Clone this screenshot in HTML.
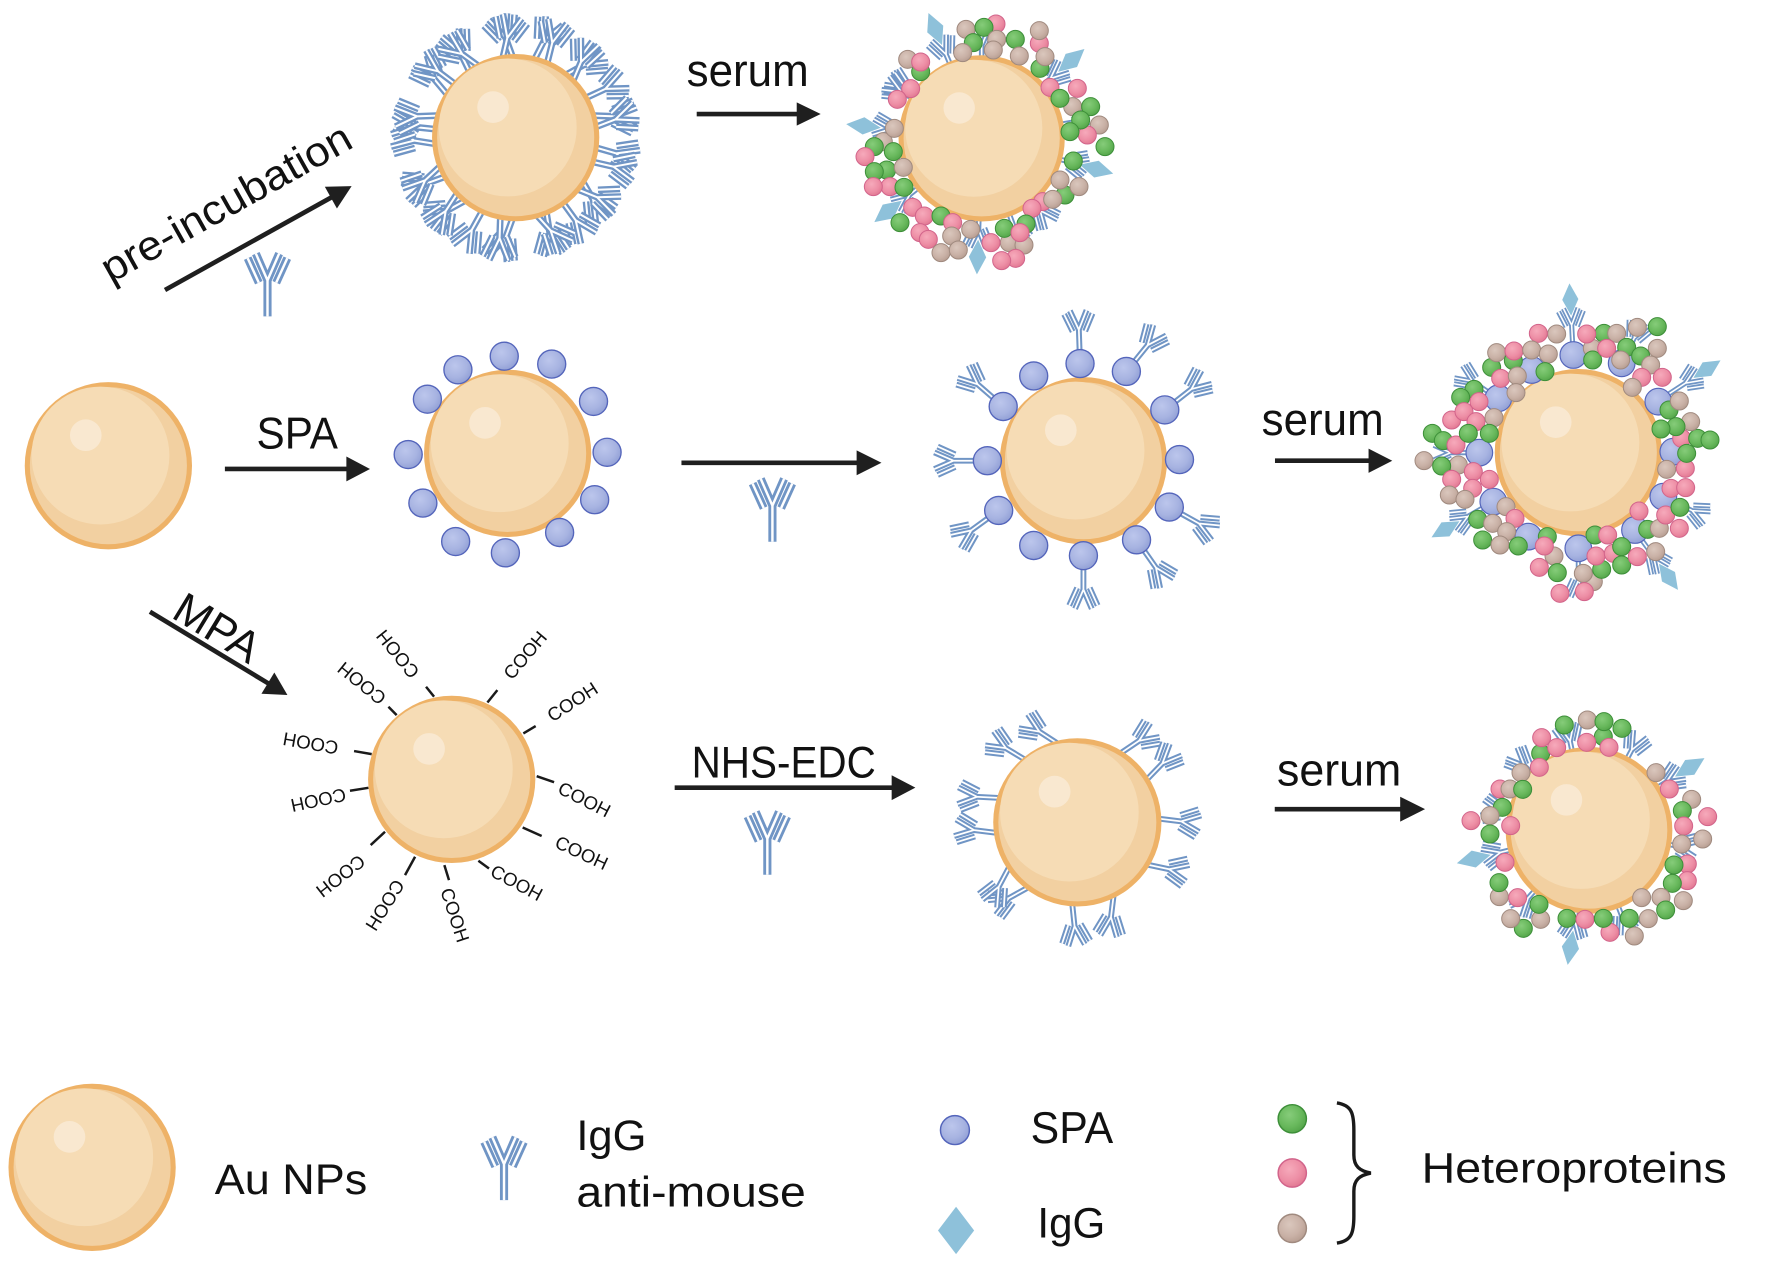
<!DOCTYPE html>
<html><head><meta charset="utf-8">
<style>
html,body{margin:0;padding:0;background:#fff}
svg{display:block}
text{font-family:"Liberation Sans",Arial,sans-serif;fill:#111}
.g{fill:url(#rg);stroke:#3d8f39}
.p{fill:url(#rp);stroke:#d2648b}
.t{fill:url(#rt);stroke:#a08a7f}
.s{fill:url(#rs);stroke:#5465bb}
</style></head>
<body>
<svg width="1772" height="1281" viewBox="0 0 1772 1281" xmlns="http://www.w3.org/2000/svg" xmlns:xlink="http://www.w3.org/1999/xlink">
<defs>
<radialGradient id="rs" cx=".4" cy=".36" r=".65"><stop offset="0" stop-color="#bcc6ec"/><stop offset=".65" stop-color="#a7b3e1"/><stop offset="1" stop-color="#93a1d6"/></radialGradient>
<radialGradient id="rg" cx=".4" cy=".36" r=".65"><stop offset="0" stop-color="#86cc7a"/><stop offset=".65" stop-color="#68b85c"/><stop offset="1" stop-color="#55a64b"/></radialGradient>
<radialGradient id="rp" cx=".4" cy=".36" r=".65"><stop offset="0" stop-color="#f6aabb"/><stop offset=".65" stop-color="#ed8ea5"/><stop offset="1" stop-color="#e27993"/></radialGradient>
<radialGradient id="rt" cx=".4" cy=".36" r=".65"><stop offset="0" stop-color="#dac7bd"/><stop offset=".65" stop-color="#c9b1a6"/><stop offset="1" stop-color="#b89f93"/></radialGradient>
<g id="np">
<circle r="74" fill="#EEB267"/>
<circle r="69.5" fill="#F2D0A1"/>
<circle cx="-7" cy="-9" r="61" fill="#F6DCB5"/>
<circle cx="-20" cy="-27" r="14" fill="#F9E8D0"/>
</g>
<g id="ab">
<path d="M0,0V-32M0,-31L-10,-54M0,-31L10,-54M-7.5,-29L-17,-50M7.5,-29L17,-50" fill="none" stroke="#7095C5" stroke-width="7"/>
<path d="M0,0V-32M0,-31L-10,-54M0,-31L10,-54M-7.5,-29L-17,-50M7.5,-29L17,-50" fill="none" stroke="#fff" stroke-width="2.1"/>
</g>
<g id="abd">
<use href="#ab"/>
<polygon points="0,-88 11,-66 0,-44 -11,-66" fill="#8EC1DA"/>
</g>
</defs>

<!-- ============ DISPLAY-COORD LAYER ============ -->
<g transform="scale(1.1301)">

<!-- Top antibody NP -->
<g>
<use href="#ab" transform="translate(456.3,121.8) rotate(0) translate(0,-64) rotate(-20) scale(0.85)"/>
<use href="#ab" transform="translate(456.3,121.8) rotate(12) translate(0,-64) rotate(15) scale(0.85)"/>
<use href="#ab" transform="translate(456.3,121.8) rotate(24) translate(0,-64) rotate(-10) scale(0.85)"/>
<use href="#ab" transform="translate(456.3,121.8) rotate(36) translate(0,-64) rotate(25) scale(0.85)"/>
<use href="#ab" transform="translate(456.3,121.8) rotate(48) translate(0,-64) rotate(-25) scale(0.85)"/>
<use href="#ab" transform="translate(456.3,121.8) rotate(60) translate(0,-64) rotate(5) scale(0.85)"/>
<use href="#ab" transform="translate(456.3,121.8) rotate(72) translate(0,-64) rotate(20) scale(0.85)"/>
<use href="#ab" transform="translate(456.3,121.8) rotate(84) translate(0,-64) rotate(-15) scale(0.85)"/>
<use href="#ab" transform="translate(456.3,121.8) rotate(96) translate(0,-64) rotate(10) scale(0.85)"/>
<use href="#ab" transform="translate(456.3,121.8) rotate(108) translate(0,-64) rotate(-5) scale(0.85)"/>
<use href="#ab" transform="translate(456.3,121.8) rotate(120) translate(0,-64) rotate(30) scale(0.85)"/>
<use href="#ab" transform="translate(456.3,121.8) rotate(132) translate(0,-64) rotate(-20) scale(0.85)"/>
<use href="#ab" transform="translate(456.3,121.8) rotate(144) translate(0,-64) rotate(0) scale(0.85)"/>
<use href="#ab" transform="translate(456.3,121.8) rotate(156) translate(0,-64) rotate(15) scale(0.85)"/>
<use href="#ab" transform="translate(456.3,121.8) rotate(168) translate(0,-64) rotate(-30) scale(0.85)"/>
<use href="#ab" transform="translate(456.3,121.8) rotate(180) translate(0,-64) rotate(20) scale(0.85)"/>
<use href="#ab" transform="translate(456.3,121.8) rotate(192) translate(0,-64) rotate(-10) scale(0.85)"/>
<use href="#ab" transform="translate(456.3,121.8) rotate(204) translate(0,-64) rotate(5) scale(0.85)"/>
<use href="#ab" transform="translate(456.3,121.8) rotate(216) translate(0,-64) rotate(25) scale(0.85)"/>
<use href="#ab" transform="translate(456.3,121.8) rotate(228) translate(0,-64) rotate(-15) scale(0.85)"/>
<use href="#ab" transform="translate(456.3,121.8) rotate(240) translate(0,-64) rotate(10) scale(0.85)"/>
<use href="#ab" transform="translate(456.3,121.8) rotate(252) translate(0,-64) rotate(-25) scale(0.85)"/>
<use href="#ab" transform="translate(456.3,121.8) rotate(264) translate(0,-64) rotate(15) scale(0.85)"/>
<use href="#ab" transform="translate(456.3,121.8) rotate(276) translate(0,-64) rotate(0) scale(0.85)"/>
<use href="#ab" transform="translate(456.3,121.8) rotate(288) translate(0,-64) rotate(-20) scale(0.85)"/>
<use href="#ab" transform="translate(456.3,121.8) rotate(300) translate(0,-64) rotate(20) scale(0.85)"/>
<use href="#ab" transform="translate(456.3,121.8) rotate(312) translate(0,-64) rotate(-5) scale(0.85)"/>
<use href="#ab" transform="translate(456.3,121.8) rotate(324) translate(0,-64) rotate(10) scale(0.85)"/>
<use href="#ab" transform="translate(456.3,121.8) rotate(336) translate(0,-64) rotate(-30) scale(0.85)"/>
<use href="#ab" transform="translate(456.3,121.8) rotate(348) translate(0,-64) rotate(25) scale(0.85)"/>
<use href="#np" transform="translate(456.3,121.8)"/>
</g>

<!-- Bare NP -->
<use href="#np" transform="translate(95.9,412.1)"/>

<!-- SPA NP -->
<use href="#np" transform="translate(449.2,401.2)"/>
<g stroke-width="1.2">
<circle class="s" cx="446.2" cy="315.2" r="12.4"/>
<circle class="s" cx="488.2" cy="322.2" r="12.4"/>
<circle class="s" cx="525.2" cy="355.2" r="12.4"/>
<circle class="s" cx="537.2" cy="400.2" r="12.4"/>
<circle class="s" cx="526.2" cy="442.2" r="12.4"/>
<circle class="s" cx="495.2" cy="471.2" r="12.4"/>
<circle class="s" cx="447.2" cy="489.2" r="12.4"/>
<circle class="s" cx="403.2" cy="479.2" r="12.4"/>
<circle class="s" cx="374.2" cy="445.2" r="12.4"/>
<circle class="s" cx="361.2" cy="402.2" r="12.4"/>
<circle class="s" cx="378.2" cy="353.2" r="12.4"/>
<circle class="s" cx="405.2" cy="327.2" r="12.4"/>
</g>

<!-- SPA + IgG NP -->
<use href="#np" transform="translate(958.7,407.7)"/>
<use href="#ab" transform="translate(955.7,321.7) rotate(-2) translate(0,-7) scale(0.74)"/>
<use href="#ab" transform="translate(996.7,328.7) rotate(39) translate(0,-7) scale(0.74)"/>
<use href="#ab" transform="translate(1030.7,362.7) rotate(52) translate(0,-7) scale(0.74)"/>
<use href="#ab" transform="translate(1034.7,448.7) rotate(119) translate(0,-7) scale(0.74)"/>
<use href="#ab" transform="translate(1005.7,477.7) rotate(145) translate(0,-7) scale(0.74)"/>
<use href="#ab" transform="translate(958.7,491.7) rotate(180) translate(0,-7) scale(0.74)"/>
<use href="#ab" transform="translate(883.7,451.7) rotate(234) translate(0,-7) scale(0.74)"/>
<use href="#ab" transform="translate(873.7,407.7) rotate(270) translate(0,-7) scale(0.74)"/>
<use href="#ab" transform="translate(887.7,359.7) rotate(311) translate(0,-7) scale(0.74)"/>
<g stroke-width="1.2">
<circle class="s" cx="914.7" cy="332.7" r="12.4"/>
<circle class="s" cx="955.7" cy="321.7" r="12.4"/>
<circle class="s" cx="996.7" cy="328.7" r="12.4"/>
<circle class="s" cx="1030.7" cy="362.7" r="12.4"/>
<circle class="s" cx="1043.7" cy="406.7" r="12.4"/>
<circle class="s" cx="1034.7" cy="448.7" r="12.4"/>
<circle class="s" cx="1005.7" cy="477.7" r="12.4"/>
<circle class="s" cx="958.7" cy="491.7" r="12.4"/>
<circle class="s" cx="914.7" cy="482.7" r="12.4"/>
<circle class="s" cx="883.7" cy="451.7" r="12.4"/>
<circle class="s" cx="873.7" cy="407.7" r="12.4"/>
<circle class="s" cx="887.7" cy="359.7" r="12.4"/>
</g>

<!-- COOH NP -->
<use href="#np" transform="translate(399.7,689.7)"/>
<g transform="translate(399.7,689.7)">
<g stroke="#1a1a1a" stroke-width="2.2">
<line x1="31.6" y1="-68.1" x2="40.4" y2="-79"/>
<line x1="63.4" y1="-40.7" x2="74.3" y2="-47.2"/>
<line x1="75.2" y1="-2.9" x2="90.6" y2="2.4"/>
<line x1="62.8" y1="42.5" x2="79.6" y2="50.1"/>
<line x1="23.6" y1="72" x2="33" y2="78.8"/>
<line x1="-6.5" y1="75.8" x2="-2.4" y2="89.1"/>
<line x1="-32.4" y1="68.4" x2="-41.3" y2="84.7"/>
<line x1="-59" y1="46.3" x2="-71.7" y2="58.1"/>
<line x1="-73.7" y1="7.4" x2="-90" y2="10"/>
<line x1="-70.8" y1="-22.4" x2="-86.4" y2="-25.1"/>
<line x1="-48.7" y1="-56.9" x2="-56" y2="-64.3"/>
<line x1="-15.6" y1="-73.2" x2="-22.7" y2="-82"/>
</g>
<g font-size="16.5" text-anchor="middle" dominant-baseline="central">
<text transform="translate(64.9,-110) rotate(-50)">COOH</text>
<text transform="translate(106.8,-68.7) rotate(-33)">COOH</text>
<text transform="translate(117.4,17.7) rotate(27)">COOH</text>
<text transform="translate(115,64.9) rotate(25)">COOH</text>
<text transform="translate(57.5,91.4) rotate(28)">COOH</text>
<text transform="translate(2.9,120) rotate(72)">COOH</text>
<text transform="translate(-59,111.2) rotate(122)">COOH</text>
<text transform="translate(-98.2,85.5) rotate(142)">COOH</text>
<text transform="translate(-118,18.3) rotate(168)">COOH</text>
<text transform="translate(-124.8,-31.9) rotate(190)">COOH</text>
<text transform="translate(-79.6,-85) rotate(219)">COOH</text>
<text transform="translate(-47.8,-110.9) rotate(231)">COOH</text>
</g>
</g>

<!-- Arrows -->
<g fill="#1f1f1f" stroke="#1f1f1f">
<line x1="616.5" y1="100.9" x2="707" y2="100.9" stroke-width="4.1"/>
<polygon points="705,90.6 726.2,100.9 705,111.2" stroke="none"/>
<line x1="199" y1="415" x2="308" y2="415" stroke-width="4.1"/>
<polygon points="306.5,404 327.4,415 306.5,426" stroke="none"/>
<line x1="603" y1="409.5" x2="760" y2="409.5" stroke-width="4.1"/>
<polygon points="758,398.5 780,409.5 758,420.5" stroke="none"/>
<line x1="1128.2" y1="407.7" x2="1212" y2="407.7" stroke-width="4.1"/>
<polygon points="1211,397 1232,407.7 1211,418.4" stroke="none"/>
<line x1="597" y1="697" x2="790" y2="697" stroke-width="4.1"/>
<polygon points="789,686 810,697 789,708" stroke="none"/>
<line x1="1128" y1="716" x2="1240" y2="716" stroke-width="4.1"/>
<polygon points="1239,705 1261,716 1239,727" stroke="none"/>
<g transform="translate(146,256.6) rotate(-29.1)">
<line x1="0" y1="0" x2="170" y2="0" stroke-width="4.1"/>
<polygon points="168,-11 189,0 168,11" stroke="none"/>
</g>
<g transform="translate(132.7,541.3) rotate(31.2)">
<line x1="0" y1="0" x2="124" y2="0" stroke-width="4.1"/>
<polygon points="122,-11 142.2,0 122,11" stroke="none"/>
</g>
</g>

<!-- Standalone antibody icons -->
<use href="#ab" transform="translate(236.7,280) scale(1.03)"/>
<use href="#ab" transform="translate(683.5,479.4) scale(1.03)"/>
<use href="#ab" transform="translate(679,774) scale(1.03)"/>

<!-- Labels -->
<text transform="translate(98,251) rotate(-29.3)" font-size="37" textLength="248" lengthAdjust="spacingAndGlyphs">pre-incubation</text>
<text x="607.6" y="76" font-size="40" textLength="108" lengthAdjust="spacingAndGlyphs">serum</text>
<text x="227" y="396.7" font-size="39" textLength="72" lengthAdjust="spacingAndGlyphs">SPA</text>
<text x="1116.4" y="385" font-size="40" textLength="108" lengthAdjust="spacingAndGlyphs">serum</text>
<text transform="translate(192,556) rotate(31.2)" font-size="39" text-anchor="middle" dominant-baseline="central">MPA</text>
<text x="612" y="688" font-size="39" textLength="163" lengthAdjust="spacingAndGlyphs">NHS-EDC</text>
<text x="1130" y="695" font-size="40" textLength="110" lengthAdjust="spacingAndGlyphs">serum</text>

<!-- Legend -->
<use href="#np" transform="translate(81.5,1033)"/>
<text x="190" y="1056.6" font-size="38" textLength="135" lengthAdjust="spacingAndGlyphs">Au NPs</text>
<use href="#ab" transform="translate(446,1062) scale(1.03)"/>
<text x="510" y="1017.5" font-size="38" textLength="62" lengthAdjust="spacingAndGlyphs">IgG</text>
<text x="510" y="1067.5" font-size="38" textLength="203" lengthAdjust="spacingAndGlyphs">anti-mouse</text>
<circle class="s" cx="845" cy="1000" r="12.8" stroke-width="1.3"/>
<text x="912" y="1011.2" font-size="39" textLength="73" lengthAdjust="spacingAndGlyphs">SPA</text>
<polygon points="846,1067.8 862,1088.8 846,1109.8 830,1088.8" fill="#8EC1DA"/>
<text x="918" y="1095.2" font-size="38" textLength="60" lengthAdjust="spacingAndGlyphs">IgG</text>
<g stroke-width="1.3">
<circle class="g" cx="1143.5" cy="990" r="12.5"/>
<circle class="p" cx="1143.5" cy="1038" r="12.5"/>
<circle class="t" cx="1143.5" cy="1087" r="12.5"/>
</g>
<path d="M1183,976 C1196,978 1198,985 1198,1000 L1198,1022 C1198,1032 1203,1036 1213,1038 C1203,1040 1198,1044 1198,1054 L1198,1076 C1198,1091 1196,1098 1183,1100" fill="none" stroke="#1a1a1a" stroke-width="3"/>
<text x="1258" y="1046.5" font-size="38" textLength="270" lengthAdjust="spacingAndGlyphs">Heteroproteins</text>
</g>

<!-- ============ Top corona (zoom-4 coords) ============ -->
<g transform="translate(830,0) scale(0.333333)">
<use href="#ab" transform="translate(455,415) rotate(0) translate(0,-205) scale(2.37)"/>
<use href="#ab" transform="translate(455,415) rotate(-57) translate(0,-205) scale(2.37)"/>
<use href="#ab" transform="translate(455,415) rotate(141) translate(0,-205) scale(2.37)"/>
<use href="#ab" transform="translate(455,415) rotate(160) translate(0,-205) scale(2.37)"/>
<use href="#ab" transform="translate(455,415) rotate(80) translate(0,-205) scale(2.37)"/>
<use href="#ab" transform="translate(455,415) rotate(300) translate(0,-205) scale(2.37)"/>
<use href="#abd" transform="translate(455,415) rotate(-23) translate(0,-200) scale(2.37)"/>
<use href="#abd" transform="translate(455,415) rotate(49) translate(0,-200) scale(2.37)"/>
<use href="#abd" transform="translate(455,415) rotate(105) translate(0,-200) scale(2.37)"/>
<use href="#abd" transform="translate(455,415) rotate(182) translate(0,-200) scale(2.37)"/>
<use href="#abd" transform="translate(455,415) rotate(232) translate(0,-200) scale(2.37)"/>
<use href="#abd" transform="translate(455,415) rotate(276) translate(0,-200) scale(2.37)"/>
<use href="#np" transform="translate(455,415) scale(3.37)"/>
<g stroke-width="3">
<circle class="t" cx="408" cy="88" r="27"/><circle class="p" cx="498" cy="72" r="27"/><circle class="g" cx="462" cy="82" r="27"/>
<circle class="t" cx="500" cy="118" r="27"/><circle class="g" cx="430" cy="128" r="27"/><circle class="t" cx="490" cy="150" r="27"/>
<circle class="t" cx="398" cy="158" r="27"/><circle class="g" cx="556" cy="118" r="27"/><circle class="t" cx="568" cy="168" r="27"/>
<circle class="p" cx="628" cy="130" r="27"/><circle class="t" cx="628" cy="92" r="27"/><circle class="g" cx="630" cy="205" r="27"/>
<circle class="t" cx="645" cy="170" r="27"/>
<circle class="g" cx="272" cy="215" r="27"/><circle class="t" cx="233" cy="178" r="27"/><circle class="p" cx="272" cy="186" r="27"/>
<circle class="p" cx="242" cy="266" r="27"/><circle class="p" cx="202" cy="298" r="27"/>
<circle class="p" cx="660" cy="262" r="27"/><circle class="p" cx="742" cy="265" r="27"/><circle class="t" cx="728" cy="320" r="27"/>
<circle class="g" cx="690" cy="295" r="27"/><circle class="g" cx="782" cy="320" r="27"/><circle class="t" cx="808" cy="375" r="27"/>
<circle class="p" cx="772" cy="405" r="27"/><circle class="g" cx="752" cy="360" r="27"/><circle class="g" cx="720" cy="395" r="27"/>
<circle class="g" cx="825" cy="440" r="27"/><circle class="g" cx="730" cy="483" r="27"/>
<circle class="g" cx="705" cy="585" r="27"/><circle class="t" cx="690" cy="540" r="27"/><circle class="t" cx="747" cy="560" r="27"/>
<circle class="p" cx="638" cy="605" r="27"/><circle class="p" cx="606" cy="625" r="27"/><circle class="t" cx="668" cy="598" r="27"/>
<circle class="t" cx="160" cy="425" r="27"/><circle class="t" cx="193" cy="385" r="27"/><circle class="g" cx="133" cy="440" r="27"/>
<circle class="g" cx="190" cy="455" r="27"/><circle class="p" cx="105" cy="470" r="27"/><circle class="g" cx="170" cy="510" r="27"/>
<circle class="g" cx="133" cy="515" r="27"/><circle class="t" cx="220" cy="502" r="27"/><circle class="p" cx="180" cy="560" r="27"/>
<circle class="p" cx="130" cy="560" r="27"/><circle class="g" cx="222" cy="562" r="27"/>
<circle class="p" cx="248" cy="622" r="27"/><circle class="g" cx="210" cy="668" r="27"/><circle class="p" cx="283" cy="648" r="27"/>
<circle class="g" cx="333" cy="648" r="27"/><circle class="p" cx="368" cy="668" r="27"/><circle class="t" cx="365" cy="708" r="27"/>
<circle class="p" cx="270" cy="698" r="27"/><circle class="p" cx="295" cy="718" r="27"/><circle class="t" cx="333" cy="758" r="27"/>
<circle class="t" cx="385" cy="750" r="27"/><circle class="t" cx="422" cy="688" r="27"/>
<circle class="t" cx="538" cy="728" r="27"/><circle class="t" cx="582" cy="735" r="27"/><circle class="g" cx="588" cy="672" r="27"/>
<circle class="g" cx="523" cy="685" r="27"/><circle class="p" cx="570" cy="698" r="27"/><circle class="p" cx="483" cy="728" r="27"/>
<circle class="p" cx="557" cy="775" r="27"/><circle class="p" cx="515" cy="782" r="27"/>
</g>
</g>

<!-- ============ Middle corona (zoom-7 coords) ============ -->
<g transform="translate(1400,270) scale(0.333333)">
<use href="#abd" transform="translate(535,548) rotate(-3) translate(0,-315) scale(2.2)"/>
<use href="#abd" transform="translate(535,548) rotate(57) translate(0,-315) scale(2.2)"/>
<use href="#abd" transform="translate(535,548) rotate(144) translate(0,-315) scale(2.2)"/>
<use href="#abd" transform="translate(535,548) rotate(240) translate(0,-315) scale(2.2)"/>
<use href="#ab" transform="translate(535,548) rotate(26) translate(0,-315) scale(2.2)"/>
<use href="#ab" transform="translate(535,548) rotate(117) translate(0,-315) scale(2.2)"/>
<use href="#ab" transform="translate(535,548) rotate(180) translate(0,-315) scale(2.2)"/>
<use href="#ab" transform="translate(535,548) rotate(270) translate(0,-315) scale(2.2)"/>
<use href="#ab" transform="translate(535,548) rotate(304) translate(0,-315) scale(2.2)"/>
<use href="#np" transform="translate(535,548) scale(3.39)"/>
<g stroke-width="3.5">
<circle class="s" cx="520" cy="255" r="40"/><circle class="s" cx="395" cy="300" r="40"/><circle class="s" cx="665" cy="280" r="40"/>
<circle class="s" cx="775" cy="395" r="40"/><circle class="s" cx="820" cy="545" r="40"/><circle class="s" cx="790" cy="680" r="40"/>
<circle class="s" cx="705" cy="780" r="40"/><circle class="s" cx="535" cy="835" r="40"/><circle class="s" cx="385" cy="800" r="40"/>
<circle class="s" cx="280" cy="695" r="40"/><circle class="s" cx="238" cy="548" r="40"/><circle class="s" cx="295" cy="385" r="40"/>
</g>
<g stroke-width="3">
<circle class="t" cx="470" cy="192" r="27"/><circle class="p" cx="415" cy="190" r="27"/>
<circle class="g" cx="275" cy="292" r="27"/><circle class="t" cx="290" cy="248" r="27"/><circle class="g" cx="340" cy="272" r="27"/>
<circle class="p" cx="342" cy="243" r="27"/><circle class="t" cx="395" cy="240" r="27"/><circle class="t" cx="445" cy="252" r="27"/>
<circle class="g" cx="435" cy="305" r="27"/><circle class="p" cx="302" cy="325" r="27"/><circle class="t" cx="352" cy="318" r="27"/>
<circle class="t" cx="348" cy="368" r="27"/>
<circle class="g" cx="612" cy="190" r="27"/><circle class="t" cx="650" cy="190" r="27"/><circle class="t" cx="577" cy="235" r="27"/>
<circle class="p" cx="560" cy="192" r="27"/><circle class="g" cx="578" cy="270" r="27"/><circle class="p" cx="620" cy="235" r="27"/>
<circle class="g" cx="680" cy="232" r="27"/><circle class="t" cx="662" cy="270" r="27"/>
<circle class="t" cx="712" cy="172" r="27"/><circle class="g" cx="772" cy="170" r="27"/><circle class="t" cx="772" cy="235" r="27"/>
<circle class="g" cx="722" cy="258" r="27"/><circle class="t" cx="752" cy="285" r="27"/><circle class="p" cx="725" cy="322" r="27"/>
<circle class="p" cx="787" cy="322" r="27"/><circle class="t" cx="697" cy="352" r="27"/>
<circle class="g" cx="222" cy="358" r="27"/><circle class="g" cx="182" cy="382" r="27"/><circle class="p" cx="237" cy="395" r="27"/>
<circle class="p" cx="155" cy="450" r="27"/><circle class="p" cx="192" cy="425" r="27"/><circle class="p" cx="228" cy="455" r="27"/>
<circle class="t" cx="282" cy="443" r="27"/><circle class="g" cx="97" cy="490" r="27"/><circle class="g" cx="130" cy="512" r="27"/>
<circle class="p" cx="168" cy="525" r="27"/><circle class="g" cx="205" cy="490" r="27"/><circle class="g" cx="268" cy="490" r="27"/>
<circle class="t" cx="72" cy="572" r="27"/><circle class="t" cx="175" cy="585" r="27"/><circle class="g" cx="125" cy="588" r="27"/>
<circle class="p" cx="220" cy="605" r="27"/><circle class="p" cx="155" cy="628" r="27"/><circle class="p" cx="268" cy="628" r="27"/>
<circle class="p" cx="218" cy="655" r="27"/><circle class="t" cx="148" cy="675" r="27"/><circle class="t" cx="195" cy="688" r="27"/>
<circle class="t" cx="318" cy="710" r="27"/><circle class="g" cx="233" cy="748" r="27"/><circle class="t" cx="278" cy="760" r="27"/>
<circle class="p" cx="345" cy="745" r="27"/><circle class="t" cx="320" cy="785" r="27"/><circle class="g" cx="248" cy="810" r="27"/>
<circle class="t" cx="300" cy="825" r="27"/><circle class="g" cx="355" cy="828" r="27"/><circle class="g" cx="442" cy="800" r="27"/>
<circle class="t" cx="462" cy="858" r="27"/><circle class="p" cx="433" cy="828" r="27"/><circle class="p" cx="418" cy="892" r="27"/>
<circle class="g" cx="472" cy="908" r="27"/><circle class="t" cx="580" cy="935" r="27"/><circle class="t" cx="550" cy="910" r="27"/>
<circle class="p" cx="480" cy="970" r="27"/><circle class="p" cx="553" cy="965" r="27"/><circle class="g" cx="605" cy="898" r="27"/>
<circle class="p" cx="588" cy="858" r="27"/><circle class="g" cx="585" cy="795" r="27"/><circle class="p" cx="623" cy="795" r="27"/>
<circle class="p" cx="640" cy="850" r="27"/><circle class="g" cx="665" cy="830" r="27"/><circle class="g" cx="665" cy="885" r="27"/>
<circle class="p" cx="712" cy="860" r="27"/><circle class="t" cx="767" cy="845" r="27"/>
<circle class="p" cx="717" cy="723" r="27"/><circle class="g" cx="743" cy="778" r="27"/><circle class="t" cx="778" cy="775" r="27"/>
<circle class="p" cx="797" cy="735" r="27"/><circle class="p" cx="838" cy="775" r="27"/><circle class="g" cx="840" cy="712" r="27"/>
<circle class="p" cx="813" cy="655" r="27"/><circle class="p" cx="857" cy="653" r="27"/><circle class="t" cx="800" cy="598" r="27"/>
<circle class="p" cx="856" cy="595" r="27"/><circle class="p" cx="845" cy="505" r="27"/><circle class="g" cx="893" cy="505" r="27"/>
<circle class="g" cx="930" cy="510" r="27"/><circle class="g" cx="860" cy="550" r="27"/><circle class="t" cx="872" cy="455" r="27"/>
<circle class="g" cx="828" cy="470" r="27"/><circle class="g" cx="783" cy="477" r="27"/><circle class="g" cx="807" cy="420" r="27"/>
<circle class="t" cx="838" cy="393" r="27"/>
</g>
</g>

<!-- ============ Bottom IgG NP (zoom-9 coords) ============ -->
<g transform="translate(930,690) scale(0.333333)">
<use href="#ab" transform="translate(442,397) rotate(-39) translate(0,-235) rotate(-20) scale(2.5)"/>
<use href="#ab" transform="translate(442,397) rotate(-12) translate(0,-235) rotate(-45) scale(2.5)"/>
<use href="#ab" transform="translate(442,397) rotate(31) translate(0,-235) rotate(25) scale(2.5)"/>
<use href="#ab" transform="translate(442,397) rotate(59) translate(0,-235) rotate(-15) scale(2.5)"/>
<use href="#ab" transform="translate(442,397) rotate(87) translate(0,-235) rotate(10) scale(2.5)"/>
<use href="#ab" transform="translate(442,397) rotate(122) translate(0,-235) rotate(-20) scale(2.5)"/>
<use href="#ab" transform="translate(442,397) rotate(152) translate(0,-235) rotate(35) scale(2.5)"/>
<use href="#ab" transform="translate(442,397) rotate(184) translate(0,-235) rotate(-10) scale(2.5)"/>
<use href="#ab" transform="translate(442,397) rotate(216) translate(0,-235) rotate(25) scale(2.5)"/>
<use href="#ab" transform="translate(442,397) rotate(238) translate(0,-235) rotate(-30) scale(2.5)"/>
<use href="#ab" transform="translate(442,397) rotate(262) translate(0,-235) rotate(15) scale(2.5)"/>
<use href="#ab" transform="translate(442,397) rotate(288) translate(0,-235) rotate(-15) scale(2.5)"/>
<use href="#np" transform="translate(442,397) scale(3.41)"/>
</g>

<!-- ============ Bottom corona (zoom-10 coords) ============ -->
<g transform="translate(1440,690) scale(0.333333)">
<use href="#ab" transform="translate(447,421) rotate(315) translate(0,-200) scale(2.37)"/>
<use href="#ab" transform="translate(447,421) rotate(-12) translate(0,-200) scale(2.37)"/>
<use href="#ab" transform="translate(447,421) rotate(28) translate(0,-200) scale(2.37)"/>
<use href="#ab" transform="translate(447,421) rotate(282) translate(0,-200) scale(2.37)"/>
<use href="#ab" transform="translate(447,421) rotate(222) translate(0,-200) scale(2.37)"/>
<use href="#ab" transform="translate(447,421) rotate(159) translate(0,-200) scale(2.37)"/>
<use href="#ab" transform="translate(447,421) rotate(100) translate(0,-200) scale(2.37)"/>
<use href="#abd" transform="translate(447,421) rotate(58) translate(0,-200) scale(2.37)"/>
<use href="#abd" transform="translate(447,421) rotate(256) translate(0,-200) scale(2.37)"/>
<use href="#abd" transform="translate(447,421) rotate(189) translate(0,-200) scale(2.37)"/>
<use href="#np" transform="translate(447,421) scale(3.38)"/>
<g stroke-width="3">
<circle class="g" cx="373" cy="105" r="27"/><circle class="t" cx="442" cy="90" r="27"/><circle class="g" cx="546" cy="115" r="27"/>
<circle class="g" cx="490" cy="140" r="27"/><circle class="g" cx="492" cy="95" r="27"/><circle class="g" cx="302" cy="190" r="27"/>
<circle class="p" cx="305" cy="143" r="27"/><circle class="p" cx="350" cy="173" r="27"/><circle class="p" cx="440" cy="157" r="27"/>
<circle class="p" cx="507" cy="172" r="27"/><circle class="t" cx="243" cy="248" r="27"/><circle class="p" cx="298" cy="232" r="27"/>
<circle class="p" cx="180" cy="297" r="27"/><circle class="t" cx="210" cy="297" r="27"/><circle class="g" cx="248" cy="298" r="27"/>
<circle class="g" cx="187" cy="352" r="27"/><circle class="p" cx="93" cy="392" r="27"/><circle class="t" cx="150" cy="377" r="27"/>
<circle class="p" cx="212" cy="407" r="27"/><circle class="g" cx="150" cy="432" r="27"/>
<circle class="p" cx="195" cy="517" r="27"/><circle class="t" cx="178" cy="620" r="27"/><circle class="g" cx="177" cy="578" r="27"/>
<circle class="p" cx="233" cy="623" r="27"/><circle class="g" cx="250" cy="715" r="27"/><circle class="t" cx="212" cy="686" r="27"/>
<circle class="t" cx="302" cy="688" r="27"/><circle class="g" cx="297" cy="643" r="27"/>
<circle class="p" cx="510" cy="727" r="27"/><circle class="t" cx="583" cy="738" r="27"/><circle class="g" cx="381" cy="685" r="27"/>
<circle class="p" cx="435" cy="688" r="27"/><circle class="g" cx="490" cy="685" r="27"/><circle class="g" cx="568" cy="685" r="27"/>
<circle class="t" cx="625" cy="686" r="27"/>
<circle class="t" cx="648" cy="248" r="27"/><circle class="p" cx="688" cy="297" r="27"/><circle class="t" cx="755" cy="328" r="27"/>
<circle class="g" cx="727" cy="362" r="27"/><circle class="p" cx="803" cy="380" r="27"/><circle class="p" cx="731" cy="408" r="27"/>
<circle class="t" cx="788" cy="447" r="27"/><circle class="t" cx="725" cy="462" r="27"/><circle class="p" cx="742" cy="522" r="27"/>
<circle class="p" cx="742" cy="572" r="27"/><circle class="g" cx="702" cy="525" r="27"/><circle class="g" cx="697" cy="580" r="27"/>
<circle class="t" cx="730" cy="632" r="27"/><circle class="t" cx="663" cy="622" r="27"/><circle class="t" cx="605" cy="623" r="27"/>
<circle class="g" cx="677" cy="660" r="27"/>
</g>
</g>

</svg>
</body></html>
